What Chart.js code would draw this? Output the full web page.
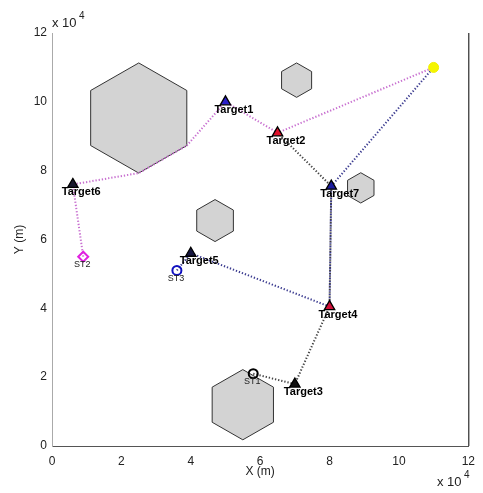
<!DOCTYPE html>
<html>
<head>
<meta charset="utf-8">
<script src="https://cdn.jsdelivr.net/npm/chart.js@4.4.0/dist/chart.umd.min.js"></script>
<style>
html, body { margin: 0; padding: 0; background: #fff; }
</style>
</head>
<body>
<canvas id="myChart" width="483" height="493"></canvas>
<script>
// values in units of 10^4 m
const targetNames = ['Target1', 'Target2', 'Target3', 'Target4', 'Target5', 'Target6', 'Target7'];
const targetX = [5, 6.5, 7, 8, 4, 0.6, 8.05];
const targetY = [10, 9.1, 1.8, 4.05, 5.6, 7.6, 7.55];
const targetColors = ['#2a1fc8', '#e0102a', '#111111', '#d0103a', '#151540', '#1a1a30', '#1a1aa0'];

const stationNames = ['ST1', 'ST2', 'ST3'];
const stationX = [5.8, 0.9, 3.6];
const stationY = [2.1, 5.5, 5.1];

const goalX = [11];
const goalY = [11];

// routes
const routeST1X = [5.8, 7, 8, 8.05, 6.5];
const routeST1Y = [2.1, 1.8, 4.05, 7.55, 9.1];
const routeST2X = [0.9, 0.6, 2.5, 3.886, 5, 6.5, 11];
const routeST2Y = [5.5, 7.6, 7.93, 8.73, 10, 9.1, 11];
const routeST3X = [3.6, 4, 8, 8.05, 11];
const routeST3Y = [5.1, 5.6, 4.05, 7.55, 11];

// hexagonal obstacles: centre and radius
const hexCX = [2.5, 7.05, 4.7, 8.9, 5.5];
const hexCY = [9.53, 10.63, 6.55, 7.5, 1.2];
const hexR = [1.6, 0.5, 0.61, 0.44, 1.02];

const ticksX = [0, 2, 4, 6, 8, 10, 12];
const ticksY = [0, 2, 4, 6, 8, 10, 12];

function pts(xs, ys) {
  return xs.map((v, i) => ({ x: v, y: ys[i] }));
}

const obstaclePlugin = {
  id: 'obstacles',
  beforeDatasetsDraw(chart) {
    const { ctx, scales: { x, y } } = chart;
    ctx.save();
    hexCX.forEach((cx, i) => {
      ctx.beginPath();
      for (let k = 0; k < 6; k++) {
        const a = Math.PI / 2 + k * Math.PI / 3;
        const px = x.getPixelForValue(cx + hexR[i] * Math.cos(a));
        const py = y.getPixelForValue(hexCY[i] + hexR[i] * Math.sin(a));
        if (k === 0) ctx.moveTo(px, py); else ctx.lineTo(px, py);
      }
      ctx.closePath();
      ctx.fillStyle = '#d3d3d3';
      ctx.fill();
      ctx.strokeStyle = '#333';
      ctx.lineWidth = 1;
      ctx.stroke();
    });
    ctx.restore();
  },
  afterDatasetsDraw(chart) {
    const { ctx, chartArea, scales: { x, y } } = chart;
    ctx.save();
    // right box edge
    ctx.strokeStyle = '#000';
    ctx.lineWidth = 1;
    ctx.beginPath();
    ctx.moveTo(chartArea.right + 0.5, chartArea.top);
    ctx.lineTo(chartArea.right + 0.5, chartArea.bottom);
    ctx.stroke();

    ctx.fillStyle = '#000';
    ctx.textBaseline = 'middle';
    ctx.textAlign = 'left';
    ctx.font = 'bold 11px "Liberation Sans", Arial, sans-serif';
    targetNames.forEach((n, i) => {
      ctx.fillText(n, x.getPixelForValue(targetX[i]) - 11, y.getPixelForValue(targetY[i]) + 8);
    });
    ctx.textAlign = 'center';
    ctx.font = '9px "Liberation Sans", Arial, sans-serif';
    ctx.fillStyle = '#222';
    stationNames.forEach((n, i) => {
      ctx.fillText(n, x.getPixelForValue(stationX[i]) - 1, y.getPixelForValue(stationY[i]) + 8);
    });

    // exponent labels
    ctx.fillStyle = '#222';
    ctx.textAlign = 'left';
    ctx.textBaseline = 'alphabetic';
    ctx.font = '13px "Liberation Sans", Arial, sans-serif';
    ctx.fillText('x 10', 52, 27);
    ctx.fillText('x 10', 437, 486);
    ctx.font = '10px "Liberation Sans", Arial, sans-serif';
    ctx.fillText('4', 79, 19);
    ctx.fillText('4', 464, 478);
    ctx.restore();
  }
};

const ctx = document.getElementById('myChart').getContext('2d');

const chartData = {
  datasets: [
    {
      label: 'goal',
      data: pts(goalX, goalY),
      pointStyle: 'circle',
      pointRadius: 5,
      backgroundColor: '#f5f500',
      borderColor: '#f0f000',
      borderWidth: 1
    },
    {
      label: 'targets',
      data: pts(targetX, targetY),
      pointStyle: 'triangle',
      pointRadius: 6,
      backgroundColor: targetColors,
      borderColor: '#000',
      borderWidth: 1.3
    },
    {
      label: 'stations',
      data: pts(stationX, stationY),
      pointStyle: ['circle', 'rectRot', 'circle'],
      pointRadius: [4.5, 5, 4.5],
      backgroundColor: 'rgba(255,255,255,0)',
      borderColor: ['#000', '#e020e0', '#1010c0'],
      borderWidth: 2
    },
    {
      label: 'route ST3',
      data: pts(routeST3X, routeST3Y),
      showLine: true,
      pointRadius: 0,
      borderColor: '#3c3c90',
      borderWidth: 2,
      borderDash: [1.3, 1.9]
    },
    {
      label: 'route ST1',
      data: pts(routeST1X, routeST1Y),
      showLine: true,
      pointRadius: 0,
      borderColor: '#444',
      borderWidth: 2,
      borderDash: [1.3, 1.9]
    },
    {
      label: 'route ST2',
      data: pts(routeST2X, routeST2Y),
      showLine: true,
      pointRadius: 0,
      borderColor: '#c870d0',
      borderWidth: 2,
      borderDash: [1.3, 1.9]
    }
  ]
};

const myChart = new Chart(ctx, {
  type: 'scatter',
  data: chartData,
  plugins: [obstaclePlugin],
  options: {
    responsive: false,
    animation: false,
    layout: { padding: { top: 33, right: 13, left: 0, bottom: 0 } },
    plugins: { legend: { display: false }, tooltip: { enabled: false } },
    scales: {
      x: {
        type: 'linear',
        min: 0, max: 12,
        afterBuildTicks: s => { s.ticks = ticksX.map(v => ({ value: v })); },
        afterFit: s => { s.height = 47; },
        grid: { display: false, drawTicks: false },
        border: { display: true, color: '#555' },
        ticks: { color: '#222', padding: 8, font: { size: 12, family: '"Liberation Sans", Arial' } },
        title: { display: true, text: 'X (m)', color: '#222', padding: { top: 0, bottom: 14 }, font: { size: 12, family: '"Liberation Sans", Arial' } }
      },
      y: {
        type: 'linear',
        min: 0, max: 12,
        afterBuildTicks: s => { s.ticks = ticksY.map(v => ({ value: v })); },
        afterFit: s => { s.width = 52; },
        grid: { display: false, drawTicks: false },
        border: { display: true, color: '#aaa' },
        ticks: { color: '#222', padding: 5, font: { size: 12, family: '"Liberation Sans", Arial' } },
        title: { display: true, text: 'Y (m)', color: '#222', padding: { top: 12, bottom: 0 }, font: { size: 12, family: '"Liberation Sans", Arial' } }
      }
    }
  }
});
</script>
</body>
</html>
